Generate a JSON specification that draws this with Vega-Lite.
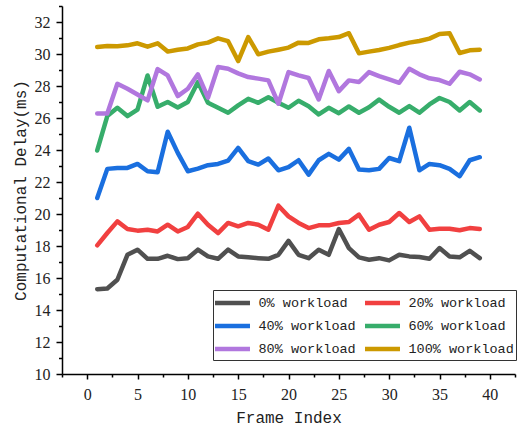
{
  "$schema": "https://vega.github.io/schema/vega-lite/v6.json",
  "width": 453,
  "height": 368,
  "autosize": {"type": "none"},
  "padding": {"left": 62, "top": 6, "right": 11, "bottom": 55},
  "background": "white",
  "config": {
    "view": {"stroke": null},
    "axis": {
      "domainColor": "#000000",
      "domainWidth": 1.5,
      "tickColor": "#000000",
      "tickWidth": 1.5,
      "grid": false,
      "labelFont": "Liberation Serif",
      "labelFontSize": 16,
      "labelColor": "#222222",
      "titleFont": "Liberation Mono",
      "titleFontSize": 16,
      "titleFontWeight": "normal",
      "titleColor": "#222222"
    }
  },
  "data": {
    "values": [
      {"s":"0% workload","x":1,"y":15.3},{"s":"0% workload","x":2,"y":15.34},{"s":"0% workload","x":3,"y":15.89},{"s":"0% workload","x":4,"y":17.45},{"s":"0% workload","x":5,"y":17.77},{"s":"0% workload","x":6,"y":17.2},{"s":"0% workload","x":7,"y":17.2},{"s":"0% workload","x":8,"y":17.39},{"s":"0% workload","x":9,"y":17.18},{"s":"0% workload","x":10,"y":17.24},
      {"s":"0% workload","x":11,"y":17.77},{"s":"0% workload","x":12,"y":17.35},{"s":"0% workload","x":13,"y":17.2},{"s":"0% workload","x":14,"y":17.77},{"s":"0% workload","x":15,"y":17.35},{"s":"0% workload","x":16,"y":17.29},{"s":"0% workload","x":17,"y":17.24},{"s":"0% workload","x":18,"y":17.2},{"s":"0% workload","x":19,"y":17.45},{"s":"0% workload","x":20,"y":18.32},
      {"s":"0% workload","x":21,"y":17.45},{"s":"0% workload","x":22,"y":17.24},{"s":"0% workload","x":23,"y":17.77},{"s":"0% workload","x":24,"y":17.45},{"s":"0% workload","x":25,"y":19.06},{"s":"0% workload","x":26,"y":17.87},{"s":"0% workload","x":27,"y":17.29},{"s":"0% workload","x":28,"y":17.14},{"s":"0% workload","x":29,"y":17.24},{"s":"0% workload","x":30,"y":17.1},
      {"s":"0% workload","x":31,"y":17.45},{"s":"0% workload","x":32,"y":17.35},{"s":"0% workload","x":33,"y":17.31},{"s":"0% workload","x":34,"y":17.2},{"s":"0% workload","x":35,"y":17.87},{"s":"0% workload","x":36,"y":17.35},{"s":"0% workload","x":37,"y":17.29},{"s":"0% workload","x":38,"y":17.7},{"s":"0% workload","x":39,"y":17.24},

      {"s":"20% workload","x":1,"y":18.04},{"s":"20% workload","x":2,"y":18.81},{"s":"20% workload","x":3,"y":19.54},{"s":"20% workload","x":4,"y":19.06},{"s":"20% workload","x":5,"y":18.96},{"s":"20% workload","x":6,"y":19.02},{"s":"20% workload","x":7,"y":18.91},{"s":"20% workload","x":8,"y":19.33},{"s":"20% workload","x":9,"y":18.91},{"s":"20% workload","x":10,"y":19.19},
      {"s":"20% workload","x":11,"y":20.02},{"s":"20% workload","x":12,"y":19.33},{"s":"20% workload","x":13,"y":18.81},{"s":"20% workload","x":14,"y":19.44},{"s":"20% workload","x":15,"y":19.23},{"s":"20% workload","x":16,"y":19.44},{"s":"20% workload","x":17,"y":19.33},{"s":"20% workload","x":18,"y":19.02},{"s":"20% workload","x":19,"y":20.52},{"s":"20% workload","x":20,"y":19.85},
      {"s":"20% workload","x":21,"y":19.44},{"s":"20% workload","x":22,"y":19.12},{"s":"20% workload","x":23,"y":19.29},{"s":"20% workload","x":24,"y":19.29},{"s":"20% workload","x":25,"y":19.44},{"s":"20% workload","x":26,"y":19.5},{"s":"20% workload","x":27,"y":19.96},{"s":"20% workload","x":28,"y":19.02},{"s":"20% workload","x":29,"y":19.33},{"s":"20% workload","x":30,"y":19.5},
      {"s":"20% workload","x":31,"y":20.06},{"s":"20% workload","x":32,"y":19.5},{"s":"20% workload","x":33,"y":19.85},{"s":"20% workload","x":34,"y":19.02},{"s":"20% workload","x":35,"y":19.08},{"s":"20% workload","x":36,"y":19.08},{"s":"20% workload","x":37,"y":18.98},{"s":"20% workload","x":38,"y":19.12},{"s":"20% workload","x":39,"y":19.06},

      {"s":"40% workload","x":1,"y":21.0},{"s":"40% workload","x":2,"y":22.82},{"s":"40% workload","x":3,"y":22.88},{"s":"40% workload","x":4,"y":22.88},{"s":"40% workload","x":5,"y":23.13},{"s":"40% workload","x":6,"y":22.67},{"s":"40% workload","x":7,"y":22.61},{"s":"40% workload","x":8,"y":25.14},{"s":"40% workload","x":9,"y":23.82},{"s":"40% workload","x":10,"y":22.67},
      {"s":"40% workload","x":11,"y":22.84},{"s":"40% workload","x":12,"y":23.05},{"s":"40% workload","x":13,"y":23.13},{"s":"40% workload","x":14,"y":23.34},{"s":"40% workload","x":15,"y":24.13},{"s":"40% workload","x":16,"y":23.3},{"s":"40% workload","x":17,"y":23.09},{"s":"40% workload","x":18,"y":23.47},{"s":"40% workload","x":19,"y":22.73},{"s":"40% workload","x":20,"y":22.93},
      {"s":"40% workload","x":21,"y":23.36},{"s":"40% workload","x":22,"y":22.46},{"s":"40% workload","x":23,"y":23.36},{"s":"40% workload","x":24,"y":23.76},{"s":"40% workload","x":25,"y":23.4},{"s":"40% workload","x":26,"y":24.07},{"s":"40% workload","x":27,"y":22.78},{"s":"40% workload","x":28,"y":22.73},{"s":"40% workload","x":29,"y":22.82},{"s":"40% workload","x":30,"y":23.5},
      {"s":"40% workload","x":31,"y":23.3},{"s":"40% workload","x":32,"y":25.39},{"s":"40% workload","x":33,"y":22.73},{"s":"40% workload","x":34,"y":23.13},{"s":"40% workload","x":35,"y":23.05},{"s":"40% workload","x":36,"y":22.82},{"s":"40% workload","x":37,"y":22.36},{"s":"40% workload","x":38,"y":23.36},{"s":"40% workload","x":39,"y":23.55},

      {"s":"60% workload","x":1,"y":23.97},{"s":"60% workload","x":2,"y":26.12},{"s":"60% workload","x":3,"y":26.64},{"s":"60% workload","x":4,"y":26.12},{"s":"60% workload","x":5,"y":26.53},{"s":"60% workload","x":6,"y":28.66},{"s":"60% workload","x":7,"y":26.7},{"s":"60% workload","x":8,"y":27.0},{"s":"60% workload","x":9,"y":26.66},{"s":"60% workload","x":10,"y":27.0},
      {"s":"60% workload","x":11,"y":28.25},{"s":"60% workload","x":12,"y":26.95},{"s":"60% workload","x":13,"y":26.64},{"s":"60% workload","x":14,"y":26.33},{"s":"60% workload","x":15,"y":26.79},{"s":"60% workload","x":16,"y":27.2},{"s":"60% workload","x":17,"y":26.95},{"s":"60% workload","x":18,"y":27.3},{"s":"60% workload","x":19,"y":26.95},{"s":"60% workload","x":20,"y":26.64},
      {"s":"60% workload","x":21,"y":27.08},{"s":"60% workload","x":22,"y":26.74},{"s":"60% workload","x":23,"y":26.22},{"s":"60% workload","x":24,"y":26.64},{"s":"60% workload","x":25,"y":26.3},{"s":"60% workload","x":26,"y":26.72},{"s":"60% workload","x":27,"y":26.33},{"s":"60% workload","x":28,"y":26.67},{"s":"60% workload","x":29,"y":27.15},{"s":"60% workload","x":30,"y":26.7},
      {"s":"60% workload","x":31,"y":26.33},{"s":"60% workload","x":32,"y":26.74},{"s":"60% workload","x":33,"y":26.33},{"s":"60% workload","x":34,"y":26.85},{"s":"60% workload","x":35,"y":27.25},{"s":"60% workload","x":36,"y":27.0},{"s":"60% workload","x":37,"y":26.47},{"s":"60% workload","x":38,"y":27.0},{"s":"60% workload","x":39,"y":26.47},

      {"s":"80% workload","x":1,"y":26.28},{"s":"80% workload","x":2,"y":26.28},{"s":"80% workload","x":3,"y":28.14},{"s":"80% workload","x":4,"y":27.83},{"s":"80% workload","x":5,"y":27.47},{"s":"80% workload","x":6,"y":27.1},{"s":"80% workload","x":7,"y":29.06},{"s":"80% workload","x":8,"y":28.66},{"s":"80% workload","x":9,"y":27.37},{"s":"80% workload","x":10,"y":27.83},
      {"s":"80% workload","x":11,"y":28.73},{"s":"80% workload","x":12,"y":27.27},{"s":"80% workload","x":13,"y":29.19},{"s":"80% workload","x":14,"y":29.08},{"s":"80% workload","x":15,"y":28.79},{"s":"80% workload","x":16,"y":28.56},{"s":"80% workload","x":17,"y":28.46},{"s":"80% workload","x":18,"y":28.35},{"s":"80% workload","x":19,"y":26.89},{"s":"80% workload","x":20,"y":28.87},
      {"s":"80% workload","x":21,"y":28.66},{"s":"80% workload","x":22,"y":28.5},{"s":"80% workload","x":23,"y":27.16},{"s":"80% workload","x":24,"y":28.94},{"s":"80% workload","x":25,"y":27.68},{"s":"80% workload","x":26,"y":28.35},{"s":"80% workload","x":27,"y":28.25},{"s":"80% workload","x":28,"y":28.87},{"s":"80% workload","x":29,"y":28.62},{"s":"80% workload","x":30,"y":28.41},
      {"s":"80% workload","x":31,"y":28.2},{"s":"80% workload","x":32,"y":29.08},{"s":"80% workload","x":33,"y":28.73},{"s":"80% workload","x":34,"y":28.48},{"s":"80% workload","x":35,"y":28.37},{"s":"80% workload","x":36,"y":28.14},{"s":"80% workload","x":37,"y":28.89},{"s":"80% workload","x":38,"y":28.73},{"s":"80% workload","x":39,"y":28.41},

      {"s":"100% workload","x":1,"y":30.44},{"s":"100% workload","x":2,"y":30.5},{"s":"100% workload","x":3,"y":30.48},{"s":"100% workload","x":4,"y":30.54},{"s":"100% workload","x":5,"y":30.67},{"s":"100% workload","x":6,"y":30.46},{"s":"100% workload","x":7,"y":30.67},{"s":"100% workload","x":8,"y":30.15},{"s":"100% workload","x":9,"y":30.27},{"s":"100% workload","x":10,"y":30.35},
      {"s":"100% workload","x":11,"y":30.6},{"s":"100% workload","x":12,"y":30.71},{"s":"100% workload","x":13,"y":30.98},{"s":"100% workload","x":14,"y":30.8},{"s":"100% workload","x":15,"y":29.56},{"s":"100% workload","x":16,"y":31.06},{"s":"100% workload","x":17,"y":29.98},{"s":"100% workload","x":18,"y":30.15},{"s":"100% workload","x":19,"y":30.27},{"s":"100% workload","x":20,"y":30.4},
      {"s":"100% workload","x":21,"y":30.71},{"s":"100% workload","x":22,"y":30.69},{"s":"100% workload","x":23,"y":30.92},{"s":"100% workload","x":24,"y":30.98},{"s":"100% workload","x":25,"y":31.06},{"s":"100% workload","x":26,"y":31.3},{"s":"100% workload","x":27,"y":30.04},{"s":"100% workload","x":28,"y":30.15},{"s":"100% workload","x":29,"y":30.25},{"s":"100% workload","x":30,"y":30.38},
      {"s":"100% workload","x":31,"y":30.56},{"s":"100% workload","x":32,"y":30.71},{"s":"100% workload","x":33,"y":30.81},{"s":"100% workload","x":34,"y":30.96},{"s":"100% workload","x":35,"y":31.25},{"s":"100% workload","x":36,"y":31.3},{"s":"100% workload","x":37,"y":30.06},{"s":"100% workload","x":38,"y":30.23},{"s":"100% workload","x":39,"y":30.27}
    ]
  },
  "layer": [
    {
      "mark": {"type": "line", "strokeWidth": 4.5, "strokeCap": "round", "strokeJoin": "round"},
      "encoding": {
        "x": {
          "field": "x", "type": "quantitative",
          "scale": {"domain": [-2.5, 42.5], "nice": false, "zero": false},
          "axis": {"orient": "bottom", "values": [0, 5, 10, 15, 20, 25, 30, 35, 40], "tickSize": 5, "labelPadding": 7, "title": "Frame Index", "titlePadding": 7}
        },
        "y": {
          "field": "y", "type": "quantitative",
          "scale": {"domain": [10, 33], "nice": false, "zero": false},
          "axis": {"orient": "left", "values": [10, 12, 14, 16, 18, 20, 22, 24, 26, 28, 30, 32], "tickSize": 6, "labelPadding": 6, "title": "Computational Delay(ms)", "titlePadding": 6}
        },
        "color": {
          "field": "s", "type": "nominal",
          "scale": {
            "domain": ["0% workload", "20% workload", "40% workload", "60% workload", "80% workload", "100% workload"],
            "range": ["#505050", "#F14040", "#1A6FDF", "#37AD6B", "#B177DE", "#CC9900"]
          },
          "legend": {
            "orient": "none", "legendX": 151, "legendY": 284,
            "direction": "horizontal",
            "columns": 2, "title": null,
            "symbolType": "M-2,0H2", "symbolSize": 306, "symbolStrokeWidth": 4.5,
            "symbolOffset": 6.5,
            "labelFont": "Liberation Mono", "labelFontSize": 13.5, "labelColor": "#222222",
            "labelOffset": 15, "columnPadding": 0, "rowPadding": 3, "padding": 2,
            "strokeColor": "#333333", "fillColor": "white"
          }
        }
      }
    },
    {
      "mark": {"type": "point", "opacity": 0},
      "encoding": {
        "x": {
          "field": "x", "type": "quantitative",
          "axis": {"orient": "bottom", "values": [-2.5, 2.5, 7.5, 12.5, 17.5, 22.5, 27.5, 32.5, 37.5, 42.5], "tickSize": 3, "labels": false, "domain": false, "title": null}
        },
        "y": {
          "field": "y", "type": "quantitative",
          "axis": {"orient": "left", "values": [11, 13, 15, 17, 19, 21, 23, 25, 27, 29, 31, 33], "tickSize": 3.5, "labels": false, "domain": false, "title": null}
        }
      }
    }
  ],
  "resolve": {"axis": {"x": "independent", "y": "independent"}}
}
